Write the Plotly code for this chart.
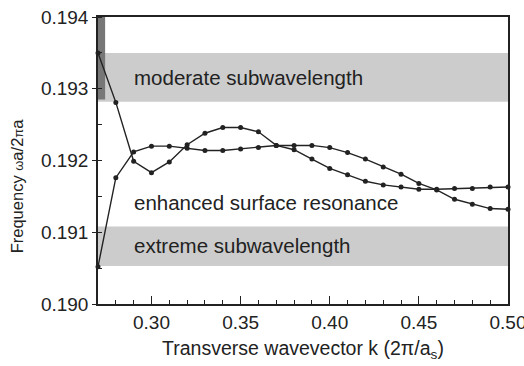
import plotly.graph_objects as go

# Transverse wavevector samples (2π/a_s)
k = [0.27, 0.28, 0.29, 0.30, 0.31, 0.32, 0.33, 0.34, 0.35, 0.36, 0.37, 0.38,
     0.39, 0.40, 0.41, 0.42, 0.43, 0.44, 0.45, 0.46, 0.47, 0.48, 0.49, 0.50]

# Upper band (descending from the light line)
band_upper = [0.19350, 0.19281, 0.19199, 0.19183, 0.19198, 0.19222, 0.19238, 0.19246,
              0.19246, 0.19240, 0.19221, 0.19215, 0.19202, 0.19189, 0.19180, 0.19171,
              0.19166, 0.19163, 0.19160, 0.19160, 0.19161, 0.19161, 0.19163, 0.19163]

# Lower band (rising from the extreme-subwavelength region)
band_lower = [0.19052, 0.19176, 0.19212, 0.19220, 0.19220, 0.19217, 0.19214, 0.19214,
              0.19216, 0.19218, 0.19221, 0.19221, 0.19221, 0.19218, 0.19211, 0.19202,
              0.19191, 0.19181, 0.19168, 0.19159, 0.19146, 0.19139, 0.19133, 0.19132]

# Shaded frequency regions
moderate_region = (0.19282, 0.19350)
extreme_region = (0.19053, 0.19108)
light_strip = (0.2700, 0.2740, 0.19285, 0.19400)

region_labels = ["moderate subwavelength", "enhanced surface resonance", "extreme subwavelength"]
region_label_y = [0.19315, 0.19142, 0.19081]

x_range = [0.27, 0.50]
y_range = [0.190, 0.194]

ink = "#222222"
font_family = "Liberation Sans, Arial, sans-serif"

fig = go.Figure()

for series in (band_upper, band_lower):
    fig.add_trace(go.Scatter(
        x=k, y=series, mode="lines+markers",
        line=dict(color=ink, width=1.4),
        marker=dict(color=ink, size=5),
        cliponaxis=False,
        showlegend=False,
    ))

shapes = [
    dict(type="rect", xref="x", yref="y", x0=x_range[0], x1=x_range[1],
         y0=moderate_region[0], y1=moderate_region[1],
         fillcolor="#cccccc", line=dict(width=0), layer="below"),
    dict(type="rect", xref="x", yref="y", x0=x_range[0], x1=x_range[1],
         y0=extreme_region[0], y1=extreme_region[1],
         fillcolor="#cccccc", line=dict(width=0), layer="below"),
    dict(type="rect", xref="x", yref="y", x0=light_strip[0], x1=light_strip[1],
         y0=light_strip[2], y1=light_strip[3],
         fillcolor="#777777", line=dict(width=0), layer="below"),
]

annotations = [
    dict(x=0.2888, y=yy, xref="x", yref="y", text=txt, showarrow=False,
         xanchor="left", yanchor="middle",
         font=dict(size=20.5, color=ink, family=font_family))
    for txt, yy in zip(region_labels, region_label_y)
]

# Rotated y-axis title beside the plotting area
annotations.append(dict(
    x=0, y=0.41, xref="paper", yref="paper", xshift=-81,
    text="Frequency <span style='font-size:13px'>ω</span>a/2<span style='font-size:13px'>π</span>a",
    textangle=-90, showarrow=False, xanchor="center", yanchor="middle",
    font=dict(size=16.5, color=ink, family=font_family),
))

fig.update_layout(
    width=524, height=366,
    margin=dict(l=98, r=16, t=17, b=62),
    paper_bgcolor="white", plot_bgcolor="white",
    font=dict(family=font_family, color=ink, size=18),
    shapes=shapes,
    annotations=annotations,
    xaxis=dict(
        range=x_range, tickvals=[0.30, 0.35, 0.40, 0.45, 0.50],
        ticktext=["0.30", "0.35", "0.40", "0.45", "0.50"],
        ticks="inside", ticklen=8, tickwidth=1.2, tickcolor=ink,
        minor=dict(dtick=0.01, tick0=0.27, ticks="inside", ticklen=4, tickcolor=ink, tickwidth=1),
        showline=True, linecolor=ink, linewidth=1.5, mirror=True,
        showgrid=False, zeroline=False, automargin=False,
        ticklabeloverflow="allow",
        tickfont=dict(size=19),
        title=dict(text="Transverse wavevector k (2π/a<sub>s</sub>)", font=dict(size=19.5), standoff=10),
    ),
    yaxis=dict(
        range=y_range, tickvals=[0.190, 0.191, 0.192, 0.193, 0.194],
        ticktext=["0.190", "0.191", "0.192", "0.193", "0.194"],
        ticks="outside", ticklen=4, tickwidth=1.2, tickcolor=ink,
        minor=dict(dtick=0.0005, tick0=0.190, ticks="inside", ticklen=4, tickcolor=ink, tickwidth=1),
        showline=True, linecolor=ink, linewidth=1.5, mirror=True,
        showgrid=False, zeroline=False, automargin=False,
        ticklabeloverflow="allow",
        tickfont=dict(size=19),
    ),
)

fig.write_html("out.html")
